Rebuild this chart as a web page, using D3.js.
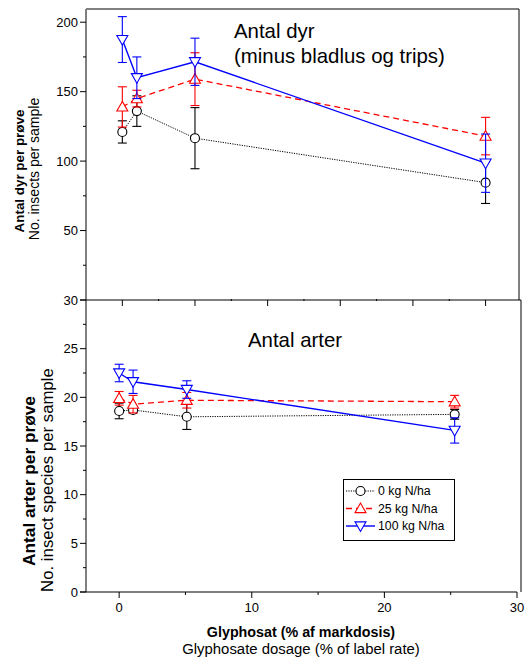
<!DOCTYPE html>
<html><head><meta charset="utf-8">
<script src="https://cdn.jsdelivr.net/npm/d3@7"></script>
<style>body{margin:0;background:#fff} text{font-family:Arial,"Liberation Sans",sans-serif;fill:#000}</style>
</head><body><svg id="c" width="528" height="660"></svg>
<script>
// ---- data ----
const seriesNames = ["0 kg N/ha", "25 kg N/ha", "100 kg N/ha"];
const doseTop = [0, 1, 5, 25];
const doseBottom = [0, 1.05, 5.1, 25.3];
// insects per sample (mean, error)
const insects0 = [121, 136, 116.5, 84.5];
const insects0Err = [8, 11, 22, 15];
const insects25 = [139, 145, 159, 118];
const insects25Err = [14.5, 6, 19, 13.5];
const insects100 = [187.5, 160, 171.5, 98.5];
const insects100Err = [16.5, 15, 17, 21];
// species per sample (mean, error)
const species0 = [18.6, 18.7, 18.0, 18.25];
const species0Err = [0.8, 0.3, 1.3, 0.5];
const species25 = [19.9, 19.3, 19.7, 19.55];
const species25Err = [0.7, 0.9, 0.8, 0.65];
const species100 = [22.5, 21.6, 20.8, 16.6];
const species100Err = [0.9, 1.2, 0.9, 1.3];
const topYTicks = [50, 100, 150, 200];
const topYMinor = [25, 75, 125, 175];
const botYTicks = [0, 5, 10, 15, 20, 25, 30];
const botYMinor = [2.5, 7.5, 12.5, 17.5, 22.5, 27.5];
const topXTicks = [0, 5, 10, 15, 20, 25];
const topXMinor = [2.5, 7.5, 12.5, 17.5, 22.5];
const botXTicks = [0, 10, 20, 30];
const botXMinor = [5, 15, 25];

const svg = d3.select("#c");
const L = 86, R = 519, T = 9, MID = 300, B = 592;
const xTop = d3.scaleLinear([-2.5, 27.3], [L, R]);
const xBot = d3.scaleLinear([-2.5, 30], [L, 517]);
const yTop = d3.scaleLinear([0, 209.5], [MID, T]);
const yBot = d3.scaleLinear([0, 30], [B, MID]);

const styles = [
  {color: "#000", dash: "1.2,1.2", width: 1, marker: "circle"},
  {color: "#ff0000", dash: "6,4", width: 1.3, marker: "up"},
  {color: "#0000ff", dash: null, width: 1.4, marker: "down"}
];

function drawMarker(g, type, x, y, color) {
  if (type === "circle") {
    g.append("circle").attr("cx", x).attr("cy", y).attr("r", 4.5)
      .attr("fill", "#fff").attr("stroke", color).attr("stroke-width", 1.1);
  } else {
    const s = 5.5;
    const pts = type === "up"
      ? [[x, y - s], [x - s, y + s * 0.75], [x + s, y + s * 0.75]]
      : [[x, y + s], [x - s, y - s * 0.75], [x + s, y - s * 0.75]];
    g.append("path").attr("d", "M" + pts.map(p => p.join(",")).join("L") + "Z")
      .attr("fill", "#fff").attr("stroke", color).attr("stroke-width", 1.1);
  }
}

function drawSeries(xs, means, errs, xS, yS, st) {
  const g = svg.append("g");
  const line = d3.line().x((d, i) => xS(xs[i])).y(d => yS(d));
  means.forEach((m, i) => {
    const x = xS(xs[i]);
    const y1 = yS(m + errs[i]), y2 = yS(m - errs[i]);
    g.append("line").attr("x1", x).attr("x2", x).attr("y1", y1).attr("y2", y2)
      .attr("stroke", st.color).attr("stroke-width", 1.1);
    [y1, y2].forEach(yy => g.append("line").attr("x1", x - 4.5).attr("x2", x + 4.5)
      .attr("y1", yy).attr("y2", yy).attr("stroke", st.color).attr("stroke-width", 1.1));
  });
  g.append("path").attr("d", line(means)).attr("fill", "none")
    .attr("stroke", st.color).attr("stroke-width", st.width)
    .attr("stroke-dasharray", st.dash);
  means.forEach((m, i) => drawMarker(g, st.marker, xS(xs[i]), yS(m), st.color));
}

// ---- frames ----
svg.append("line").attr("x1", L).attr("x2", R).attr("y1", T).attr("y2", T).attr("stroke", "#000");
svg.append("line").attr("x1", R).attr("x2", R).attr("y1", T).attr("y2", MID).attr("stroke", "#000");
svg.append("line").attr("x1", 521).attr("x2", 521).attr("y1", MID).attr("y2", B).attr("stroke", "#000");

// ---- y axes ----
function yAxis(yS, ticks, minor, y0, y1, labels) {
  svg.append("line").attr("x1", L).attr("x2", L).attr("y1", y0).attr("y2", y1)
    .attr("stroke", "#808080").attr("stroke-width", 2);
  ticks.forEach(t => {
    svg.append("line").attr("x1", L - 6).attr("x2", L).attr("y1", yS(t)).attr("y2", yS(t)).attr("stroke", "#000");
    if (labels) svg.append("text").attr("x", L - 8).attr("y", yS(t)).attr("dy", "0.35em")
      .attr("text-anchor", "end").attr("font-size", 13).text(t);
  });
  minor.forEach(t => svg.append("line").attr("x1", L - 3).attr("x2", L).attr("y1", yS(t)).attr("y2", yS(t)).attr("stroke", "#000"));
}
yAxis(yTop, topYTicks, topYMinor, T, MID, true);
yAxis(yBot, botYTicks, botYMinor, MID, B, true);

// ---- x axes ----
svg.append("line").attr("x1", L - 6).attr("x2", R + 2).attr("y1", MID).attr("y2", MID).attr("stroke", "#000").attr("stroke-width", 1.2);
topXTicks.forEach(t => svg.append("line").attr("x1", xTop(t)).attr("x2", xTop(t)).attr("y1", MID).attr("y2", MID + 6).attr("stroke", "#000"));
topXMinor.forEach(t => svg.append("line").attr("x1", xTop(t)).attr("x2", xTop(t)).attr("y1", MID - 1).attr("y2", MID + 1).attr("stroke", "#000"));
svg.append("line").attr("x1", L - 6).attr("x2", 517).attr("y1", B).attr("y2", B).attr("stroke", "#000").attr("stroke-width", 1.2);
botXTicks.forEach(t => {
  svg.append("line").attr("x1", xBot(t)).attr("x2", xBot(t)).attr("y1", B).attr("y2", B + 6).attr("stroke", "#000");
  svg.append("text").attr("x", xBot(t)).attr("y", B + 20).attr("text-anchor", "middle").attr("font-size", 13).text(t);
});
botXMinor.forEach(t => svg.append("line").attr("x1", xBot(t)).attr("x2", xBot(t)).attr("y1", B).attr("y2", B + 3).attr("stroke", "#000"));

// ---- series ----
const topData = [[insects0, insects0Err], [insects25, insects25Err], [insects100, insects100Err]];
const botData = [[species0, species0Err], [species25, species25Err], [species100, species100Err]];
topData.forEach((d, i) => drawSeries(doseTop, d[0], d[1], xTop, yTop, styles[i]));
botData.forEach((d, i) => drawSeries(doseBottom, d[0], d[1], xBot, yBot, styles[i]));

// ---- titles ----
svg.append("text").attr("x", 234).attr("y", 38).attr("font-size", 20.4).text("Antal dyr");
svg.append("text").attr("x", 234).attr("y", 63).attr("font-size", 20.4).text("(minus bladlus og trips)");
svg.append("text").attr("x", 248).attr("y", 347).attr("font-size", 20.4).text("Antal arter");

// y titles
function yTitle(x, y, txt, bold, size) {
  svg.append("text").attr("transform", `translate(${x},${y}) rotate(-90)`)
    .attr("text-anchor", "middle").attr("font-size", size)
    .attr("font-weight", bold ? "bold" : "normal").text(txt);
}
yTitle(24, 171, "Antal dyr per prøve", true, 13.4);
yTitle(38.5, 169, "No. insects per sample", false, 14);
yTitle(35, 481, "Antal arter per prøve", true, 17.3);
yTitle(53, 480, "No. insect species per sample", false, 16.8);

// x titles
svg.append("text").attr("x", 301).attr("y", 637).attr("text-anchor", "middle").attr("font-size", 14.3).attr("font-weight", "bold").text("Glyphosat (% af markdosis)");
svg.append("text").attr("x", 301).attr("y", 654).attr("text-anchor", "middle").attr("font-size", 14.9).text("Glyphosate dosage (% of label rate)");

// ---- legend ----
const lg = svg.append("g");
lg.append("rect").attr("x", 343.5).attr("y", 479.5).attr("width", 111).attr("height", 61)
  .attr("fill", "#fff").attr("stroke", "#000").attr("stroke-width", 1);
seriesNames.forEach((n, i) => {
  const y = 491 + i * 17.5, st = styles[i];
  lg.append("line").attr("x1", 346).attr("x2", 375).attr("y1", y).attr("y2", y)
    .attr("stroke", st.color).attr("stroke-width", st.width).attr("stroke-dasharray", st.dash);
  drawMarker(lg, st.marker, 360.5, y, st.color);
  lg.append("text").attr("x", 378).attr("y", y).attr("dy", "0.36em").attr("font-size", 12.3).text(n);
});
</script></body></html>
